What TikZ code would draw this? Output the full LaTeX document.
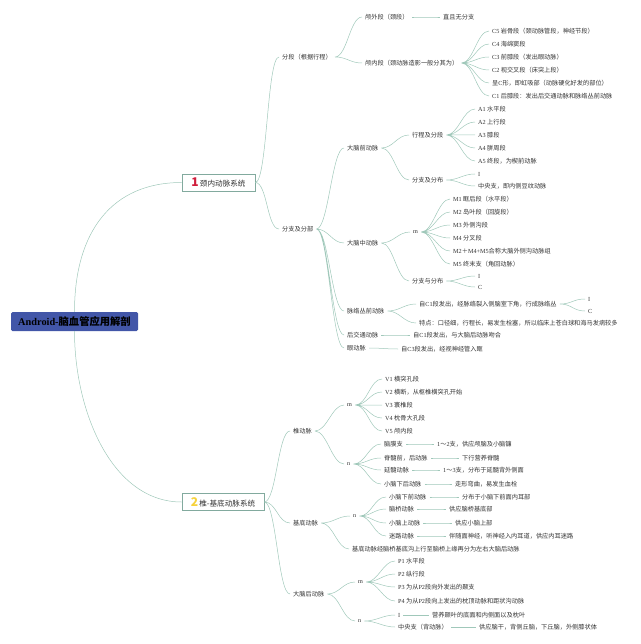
\documentclass[tikz,border=0pt]{standalone}
\usepackage{fontspec}
\setmainfont{Liberation Serif}
\newfontfamily\cjk{Noto Sans CJK SC}
\usetikzlibrary{positioning}
\definecolor{linkcol}{RGB}{160,200,186}
\definecolor{boxcol}{RGB}{130,170,158}
\definecolor{rootcol}{RGB}{66,86,168}
\definecolor{txtcol}{RGB}{51,51,51}
\definecolor{numred}{RGB}{208,30,60}
\definecolor{numyel}{RGB}{246,210,60}
\newcommand\lat[1]{{\rmfamily #1}}

\begin{document}
\begin{tikzpicture}[x=1pt,y=-1pt,
  link/.style={draw=linkcol,line width=0.5pt},
  mm/.style={to path={.. controls +(12,0) and +(-12,0) .. (\tikztotarget)}},
  root/.style={fill=rootcol,rounded corners=1.5pt,minimum width=127pt,minimum height=19pt,inner sep=0pt,font=\cjk\fontsize{10.3}{11}\selectfont\bfseries},
  sys/.style={draw=boxcol,fill=white,line width=0.6pt,minimum height=17pt,inner xsep=3pt,font=\cjk\fontsize{7.6}{9}\selectfont,text=txtcol},
  leaf/.style={anchor=west,xshift=-3pt,inner xsep=3pt,inner ysep=0.5pt,font=\cjk\fontsize{6.2}{7}\selectfont,text=txtcol},
]
  \useasboundingbox (0,0) rectangle (640,644);

  \node[root] (root) at (74.5,321.5) {{\rmfamily Android-}脑血管应用解剖};
  \node[sys,minimum width=73pt] (sysA) at (218.5,182.5) {{\color{numred}\fontsize{12}{12}\selectfont\bfseries 1}\,颈内动脉系统};
  \node[sys,minimum width=82pt] (sysB) at (223,502) {{\color{numyel}\fontsize{12}{12}\selectfont\bfseries 2}\,椎-基底动脉系统};

  \draw[link] (root.north) .. controls +(0,-80) and +(-70,0) .. (sysA.west);
  \draw[link] (root.south) .. controls +(0,80) and +(-70,0) .. (sysB.west);

  % 颈内动脉系统
  \node[leaf] (fd) at (282,57) {分段（根据行程）};
  \node[leaf] (fz) at (282,229) {分支及分部};
  \draw[link] (sysA.east) to[mm] (fd.west) (sysA.east) to[mm] (fz.west);

  \node[leaf] (lw) at (365,17) {颅外段（颈段）};
  \node[leaf] (lwa) at (443,17) {直且无分支};
  \node[leaf] (ln) at (365,63) {颅内段（颈动脉造影一般分其为）};
  \draw[link] (fd.east) to[mm] (lw.west) (fd.east) to[mm] (ln.west);
  \draw[link] (lw.east) to[mm] (lwa.west);

  \node[leaf] (c5) at (492,31) {\lat{C5} 岩骨段（颈动脉管段，神经节段）};
  \node[leaf] (c4) at (492,44) {\lat{C4} 海绵窦段};
  \node[leaf] (c3) at (492,57) {\lat{C3} 前膝段（发出眼动脉）};
  \node[leaf] (c2) at (492,70) {\lat{C2} 视交叉段（床突上段）};
  \node[leaf] (cx) at (492,83) {呈\lat{C}形，即虹吸部（动脉硬化好发的部位）};
  \node[leaf] (c1) at (492,96) {\lat{C1} 后膝段：发出后交通动脉和脉络丛前动脉};
  \draw[link] (ln.east) to[mm] (c5.west) (ln.east) to[mm] (c4.west)
    (ln.east) to[mm] (c3.west) (ln.east) to[mm] (c2.west)
    (ln.east) to[mm] (cx.west) (ln.east) to[mm] (c1.west);

  \node[leaf] (dq) at (347,148) {大脑前动脉};
  \node[leaf] (dz) at (347,243) {大脑中动脉};
  \node[leaf] (ml) at (347,311) {脉络丛前动脉};
  \node[leaf] (hj) at (347,335) {后交通动脉};
  \node[leaf] (yd) at (347,348) {眼动脉};
  \draw[link] (fz.east) to[mm] (dq.west) (fz.east) to[mm] (dz.west)
    (fz.east) to[mm] (ml.west) (fz.east) to[mm] (hj.west)
    (fz.east) to[mm] (yd.west);

  \node[leaf] (xc) at (412,135) {行程及分段};
  \node[leaf] (fb) at (412,180) {分支及分布};
  \draw[link] (dq.east) to[mm] (xc.west) (dq.east) to[mm] (fb.west);
  \node[leaf] (a1) at (478,109) {\lat{A1} 水平段};
  \node[leaf] (a2) at (478,122) {\lat{A2} 上行段};
  \node[leaf] (a3) at (478,135) {\lat{A3} 膝段};
  \node[leaf] (a4) at (478,148) {\lat{A4} 胼周段};
  \node[leaf] (a5) at (478,161) {\lat{A5} 终段，为楔前动脉};
  \draw[link] (xc.east) to[mm] (a1.west) (xc.east) to[mm] (a2.west)
    (xc.east) to[mm] (a3.west) (xc.east) to[mm] (a4.west)
    (xc.east) to[mm] (a5.west);
  \node[leaf] (ai) at (478,174) {\lat{I}};
  \node[leaf] (zy) at (478,186) {中央支，即内侧豆纹动脉};
  \draw[link] (fb.east) to[mm] (ai.west) (fb.east) to[mm] (zy.west);

  \node[leaf] (mm) at (413,232) {\lat{m}};
  \node[leaf] (fb2) at (412,281) {分支与分布};
  \draw[link] (dz.east) to[mm] (mm.west) (dz.east) to[mm] (fb2.west);
  \node[leaf] (m1) at (453,199) {\lat{M1} 眶后段（水平段）};
  \node[leaf] (m2) at (453,212) {\lat{M2} 岛叶段（回旋段）};
  \node[leaf] (m3) at (453,225) {\lat{M3} 外侧沟段};
  \node[leaf] (m4) at (453,238) {\lat{M4} 分叉段};
  \node[leaf] (m245) at (453,251) {\lat{M2}＋\lat{M4+M5}合称大脑外侧沟动脉组};
  \node[leaf] (m5) at (453,264) {\lat{M5} 终末支（角回动脉）};
  \draw[link] (mm.east) to[mm] (m1.west) (mm.east) to[mm] (m2.west)
    (mm.east) to[mm] (m3.west) (mm.east) to[mm] (m4.west)
    (mm.east) to[mm] (m245.west) (mm.east) to[mm] (m5.west);
  \node[leaf] (mi) at (478,276) {\lat{I}};
  \node[leaf] (mc) at (478,287) {\lat{C}};
  \draw[link] (fb2.east) to[mm] (mi.west) (fb2.east) to[mm] (mc.west);

  \node[leaf] (ml1) at (419,304) {自\lat{C1}段发出，经脉络裂入侧脑室下角，行成脉络丛};
  \node[leaf] (ml2) at (419,323) {特点：口径细，行程长，易发生栓塞，所以临床上苍白球和海马发病较多};
  \draw[link] (ml.east) to[mm] (ml1.west) (ml.east) to[mm] (ml2.west);
  \node[leaf] (mli) at (588,299) {\lat{I}};
  \node[leaf] (mlc) at (588,311) {\lat{C}};
  \draw[link] (ml1.east) to[mm] (mli.west) (ml1.east) to[mm] (mlc.west);

  \node[leaf] (hj1) at (413,335) {自\lat{C1}段发出，与大脑后动脉吻合};
  \node[leaf] (yd1) at (401,349) {自\lat{C3}段发出，经视神经管入眶};
  \draw[link] (hj.east) to[mm] (hj1.west);
  \draw[link] (yd.east) to[mm] (yd1.west);

  % 椎-基底动脉系统
  \node[leaf] (zd) at (293,431) {椎动脉};
  \node[leaf] (jd) at (293,523) {基底动脉};
  \node[leaf] (dh) at (293,594) {大脑后动脉};
  \draw[link] (sysB.east) to[mm] (zd.west) (sysB.east) to[mm] (jd.west)
    (sysB.east) to[mm] (dh.west);

  \node[leaf] (zm) at (347,405) {\lat{m}};
  \node[leaf] (zn) at (347,464) {\lat{n}};
  \draw[link] (zd.east) to[mm] (zm.west) (zd.east) to[mm] (zn.west);
  \node[leaf] (v1) at (385,379) {\lat{V1} 横突孔段};
  \node[leaf] (v2) at (385,392) {\lat{V2} 横断，从枢椎横突孔开始};
  \node[leaf] (v3) at (385,405) {\lat{V3} 寰椎段};
  \node[leaf] (v4) at (385,418) {\lat{V4} 枕骨大孔段};
  \node[leaf] (v5) at (385,431) {\lat{V5} 颅内段};
  \draw[link] (zm.east) to[mm] (v1.west) (zm.east) to[mm] (v2.west)
    (zm.east) to[mm] (v3.west) (zm.east) to[mm] (v4.west)
    (zm.east) to[mm] (v5.west);

  \node[leaf] (nm) at (384,444) {脑膜支};
  \node[leaf] (jsq) at (384,458) {脊髓前，后动脉};
  \node[leaf] (ys) at (384,470) {延髓动脉};
  \node[leaf] (xnh) at (384,484) {小脑下后动脉};
  \draw[link] (zn.east) to[mm] (nm.west) (zn.east) to[mm] (jsq.west)
    (zn.east) to[mm] (ys.west) (zn.east) to[mm] (xnh.west);
  \node[leaf] (nm1) at (437,444) {\lat{1}～\lat{2}支，供应颅脑及小脑镰};
  \node[leaf] (jsq1) at (462,458) {下行营养脊髓};
  \node[leaf] (ys1) at (443,470) {\lat{1}～\lat{3}支，分布于延髓背外侧面};
  \node[leaf] (xnh1) at (455,484) {走形弯曲，易发生血栓};
  \draw[link] (nm.east) to[mm] (nm1.west);
  \draw[link] (jsq.east) to[mm] (jsq1.west);
  \draw[link] (ys.east) to[mm] (ys1.west);
  \draw[link] (xnh.east) to[mm] (xnh1.west);

  \node[leaf] (jn) at (353,516) {\lat{n}};
  \node[leaf] (jd2) at (352,549) {基底动脉经脑桥基底沟上行至脑桥上缘再分为左右大脑后动脉};
  \draw[link] (jd.east) to[mm] (jn.west) (jd.east) to[mm] (jd2.west);
  \node[leaf] (xnq) at (389,497) {小脑下前动脉};
  \node[leaf] (nq) at (389,509) {脑桥动脉};
  \node[leaf] (xns) at (389,523) {小脑上动脉};
  \node[leaf] (mld) at (389,536) {迷路动脉};
  \draw[link] (jn.east) to[mm] (xnq.west) (jn.east) to[mm] (nq.west)
    (jn.east) to[mm] (xns.west) (jn.east) to[mm] (mld.west);
  \node[leaf] (xnq1) at (462,497) {分布于小脑下前面内耳部};
  \node[leaf] (nq1) at (449,509) {供应脑桥基底部};
  \node[leaf] (xns1) at (455,523) {供应小脑上部};
  \node[leaf] (mld1) at (449,536) {伴随面神经，听神经入内耳道，供应内耳迷路};
  \draw[link] (xnq.east) to[mm] (xnq1.west);
  \draw[link] (nq.east) to[mm] (nq1.west);
  \draw[link] (xns.east) to[mm] (xns1.west);
  \draw[link] (mld.east) to[mm] (mld1.west);

  \node[leaf] (pm) at (358,582) {\lat{m}};
  \node[leaf] (pn) at (358,621) {\lat{n}};
  \draw[link] (dh.east) to[mm] (pm.west) (dh.east) to[mm] (pn.west);
  \node[leaf] (p1) at (398,561) {\lat{P1} 水平段};
  \node[leaf] (p2) at (398,574) {\lat{P2} 纵行段};
  \node[leaf] (p3) at (398,587) {\lat{P3} 为从\lat{P2}段向外发出的颞支};
  \node[leaf] (p4) at (398,601) {\lat{P4} 为从\lat{P2}段向上发出的枕顶动脉和距状沟动脉};
  \draw[link] (pm.east) to[mm] (p1.west) (pm.east) to[mm] (p2.west)
    (pm.east) to[mm] (p3.west) (pm.east) to[mm] (p4.west);
  \node[leaf] (pi) at (398,615) {\lat{I}};
  \node[leaf] (zy2) at (398,627) {中央支（背动脉）};
  \draw[link] (pn.east) to[mm] (pi.west) (pn.east) to[mm] (zy2.west);
  \node[leaf] (pi1) at (432,615) {营养颞叶的底面和内侧面以及枕叶};
  \node[leaf] (zy21) at (479,627) {供应脑干，背侧丘脑，下丘脑，外侧膝状体};
  \draw[link] (pi.east) to[mm] (pi1.west);
  \draw[link] (zy2.east) to[mm] (zy21.west);
\end{tikzpicture}
\end{document}
